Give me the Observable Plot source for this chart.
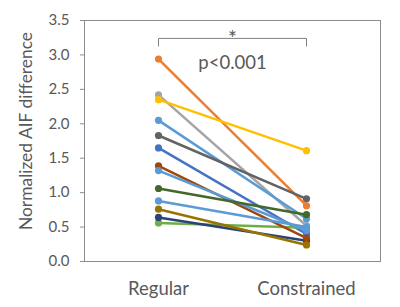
<!DOCTYPE html>
<html>
<head>
<meta charset="utf-8">
<script src="https://cdn.jsdelivr.net/npm/d3@7"></script>
<script src="https://cdn.jsdelivr.net/npm/@observablehq/plot@0.6"></script>
<style>
  html, body { margin: 0; padding: 0; background: #fff; }
  #chart { width: 400px; height: 307px; }
</style>
</head>
<body>
<div id="chart"></div>
<script>
const categories = ["Regular", "Constrained"];
const seriesColors = ["#4472C4", "#ED7D31", "#A5A5A5", "#FFC000", "#5B9BD5", "#70AD47", "#264478", "#9E480E", "#636363", "#997300", "#5B9BD5", "#43682B", "#5B9BD5"];
const regularValues = [1.65, 2.94, 2.42, 2.35, 2.05, 0.56, 0.64, 1.39, 1.83, 0.76, 1.32, 1.06, 0.88];
const constrainedValues = [0.40, 0.81, 0.52, 1.61, 0.62, 0.49, 0.30, 0.34, 0.91, 0.24, 0.45, 0.68, 0.50];
const yTicks = [0, 0.5, 1.0, 1.5, 2.0, 2.5, 3.0, 3.5];
const yLabel = "Normalized AIF difference";
const starText = "*";
const pText = "p<0.001";
const bracketTop = 3.24;
const bracketFoot = 3.13;

const rows = [];
seriesColors.forEach((c, i) => {
  rows.push({series: i, cat: categories[0], value: regularValues[i], color: c});
  rows.push({series: i, cat: categories[1], value: constrainedValues[i], color: c});
});
const bracket = [
  {x: categories[0], y: bracketFoot},
  {x: categories[0], y: bracketTop},
  {x: categories[1], y: bracketTop},
  {x: categories[1], y: bracketFoot}
];

const font = "Lato, 'Open Sans', sans-serif";
const plot = Plot.plot({
  width: 400,
  height: 307,
  marginLeft: 84,
  marginRight: 20,
  marginTop: 20,
  marginBottom: 46,
  style: {fontFamily: font, color: "#595959", background: "#fff"},
  x: {type: "point", domain: categories, padding: 0.5},
  y: {domain: [0, 3.5]},
  color: {type: "identity"},
  marks: [
    Plot.frame({stroke: "#8c8c8c"}),
    Plot.axisY({ticks: yTicks, tickFormat: d3.format(".1f"), tickSize: 4, tickPadding: 11, fontSize: 15, label: null, stroke: "#8c8c8c"}),
    Plot.axisX({tickSize: 0, tickPadding: 20, fontSize: 18.5, label: null}),
    Plot.text([yLabel], {frameAnchor: "left", rotate: -90, textAnchor: "middle", dx: -58, dy: -10, fontSize: 17.4, fill: "#595959"}),
    Plot.line(bracket, {x: "x", y: "y", stroke: "#808080", strokeWidth: 1}),
    Plot.text([starText], {frameAnchor: "top", dy: 11, fontSize: 21, fill: "#595959"}),
    Plot.text([pText], {frameAnchor: "top", dy: 35, fontSize: 18.5, fill: "#595959"}),
    Plot.line(rows, {x: "cat", y: "value", z: "series", stroke: "color", strokeWidth: 2.5}),
    Plot.dot(rows, {x: "cat", y: "value", fill: "color", r: 3.6})
  ]
});
document.getElementById("chart").appendChild(plot);
</script>
</body>
</html>
